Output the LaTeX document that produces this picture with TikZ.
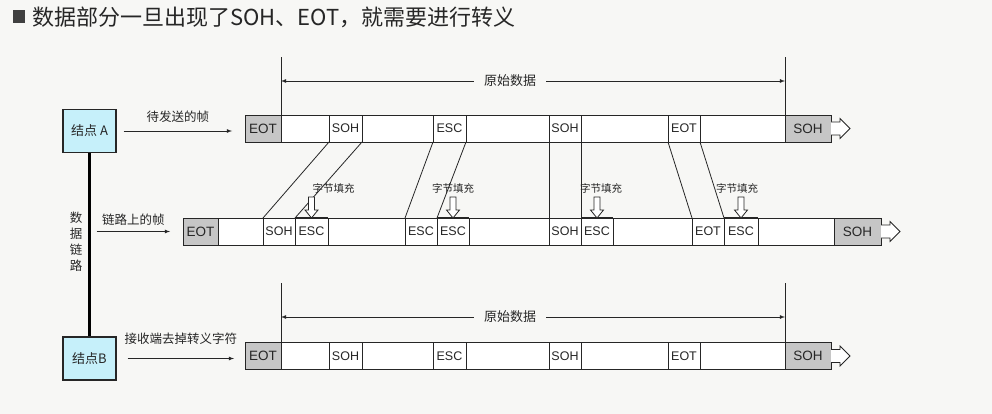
\documentclass[tikz,border=0pt]{standalone}
\usepackage{fontspec}
\setmainfont{Liberation Sans}
\newfontfamily\cjk{Noto Sans CJK SC}
\usepackage{tikz}
\usepackage{xcolor}
\definecolor{pagebg}{HTML}{F7F7F5}
\definecolor{stationfill}{HTML}{C6F0FA}
\definecolor{cellgray}{HTML}{C6C6C6}
\tikzset{
  cell/.style={draw, fill=white, minimum height=27pt, inner sep=0pt, outer sep=0pt,
    font=\fontsize{12.5}{14}\selectfont},
  endcell/.style={cell, fill=cellgray, font=\fontsize{13.5}{15}\selectfont},
  station/.style={draw, line width=1.1pt, fill=stationfill, minimum width=53pt,
    minimum height=43pt, inner sep=0pt, font=\cjk\fontsize{13}{15}\selectfont},
  lbl/.style={inner sep=1pt, font=\cjk\fontsize{12.5}{15}\selectfont},
  datalbl/.style={inner ysep=1pt, inner xsep=10pt, font=\cjk\fontsize{13}{15}\selectfont}
}
\newcommand\outarrow[1]{\draw[fill=white] ([yshift=6.5pt]#1.east) -- ++(9,0) -- ++(0,-3.5)
  -- ++(10,10) -- ++(-10,10) -- ++(0,-3.5) -- ++(-9,0);}
\newcommand\stuffarrow[1]{\draw[fill=white] (#1.north) -- ++(6.5,-8) -- ++(-3.5,0)
  -- ++(0,-13) -- ++(-6,0) -- ++(0,13) -- ++(-3.5,0) -- cycle;}
\begin{document}
\begin{tikzpicture}[x=1pt,y=-1pt,line width=0.8pt,color=black!85]
        \fill[pagebg] (0,0) rectangle (992,414);
        \useasboundingbox (0,0) rectangle (992,414);
        \fill[black!75] (13,10) rectangle (25,23);
        \node[anchor=west, inner sep=0pt, font=\cjk\fontsize{22}{24}\selectfont] (title) at (32,17.5)
        {数据部分一旦出现了SOH、EOT，就需要进行转义};
        \foreach \r/\y in {t/128.5,b/356}
        \foreach \n/\a/\b/\t/\s in {1/245/281/EOT/endcell,2/281/329//cell,3/329/362/SOH/cell,
          4/362/433//cell,5/433/466/ESC/cell,6/466/549//cell,7/549/581/SOH/cell,
          8/581/668//cell,9/668/700/EOT/cell,10/700/785//cell,11/785/831/SOH/endcell}
        {\pgfmathsetmacro\w{\b-\a}
        \node[\s, minimum width=\w pt] (\r\n) at ({(\a+\b)/2},\y) {\t};}
        \foreach \n/\a/\b/\t/\s in {1/183/218/EOT/endcell,2/218/263//cell,3/263/295/SOH/cell,
          4/295/328/ESC/cell,5/328/405//cell,6/405/437/ESC/cell,7/437/469/ESC/cell,
          8/469/549//cell,9/549/581/SOH/cell,10/581/613/ESC/cell,11/613/692//cell,
          12/692/724/EOT/cell,13/724/758/ESC/cell,14/758/834//cell,15/834/881/SOH/endcell}
        {\pgfmathsetmacro\w{\b-\a}
        \node[\s, minimum width=\w pt] (m\n) at ({(\a+\b)/2},231.5) {\t};}
        \outarrow{t11}
        \outarrow{m15}
        \outarrow{b11}
        \foreach \s/\d in {3/3,5/6,7/9,9/12}
        {\draw (t\s.south west) -- (m\d.north west);
        \draw (t\s.south east) -- (m\d.north east);}
        \foreach \c/\dx in {m4/22,m7/0,m10/4,m13/-4}
        {\draw[line width=1.6pt] (\c.north west) -- (\c.north east);
        \stuffarrow{\c}
        \node[lbl, font=\cjk\fontsize{10.5}{12}\selectfont] at ([xshift=\dx pt,yshift=30pt]\c.north) {字节填充};}
        % 原始数据
        \node[datalbl] (topdata) at (510,81) {原始数据};
        \coordinate (tlhi) at ([yshift=58pt]t1.north east);
        \coordinate (trhi) at ([yshift=58pt]t11.north west);
        \draw (t1.north east) -- (tlhi);
        \draw (t11.north west) -- (trhi);
        \draw[-latex] (topdata.west) -- (topdata -| tlhi);
        \draw[-latex] (topdata.east) -- (topdata -| trhi);
        \node[datalbl] (botdata) at (510,317) {原始数据};
        \coordinate (blhi) at ([yshift=60pt]b1.north east);
        \coordinate (brhi) at ([yshift=60pt]b11.north west);
        \draw (b1.north east) -- (blhi);
        \draw (b11.north west) -- (brhi);
        \draw[-latex] (botdata.west) -- (botdata -| blhi);
        \draw[-latex] (botdata.east) -- (botdata -| brhi);
        % stations and link
        \node[station] (A) at (89.5,131) {结点 A};
        \node[station] (B) at (89.5,358.5) {结点B};
        \draw[line width=2.4pt, black] (A.south) -- (B.north);
        \node[lbl, align=center, font=\cjk\fontsize{12.5}{16}\selectfont] (linklbl) at (76,242) {数\\据\\链\\路};
        \draw[-latex] ([xshift=7pt]A.east) -- ([xshift=-13pt]A.east -| t1.west)
        node[lbl, midway, above=7pt] {待发送的帧};
        \draw[-latex] ([xshift=7pt]m1.west -| A.south) -- ([xshift=-13pt]m1.west)
        node[lbl, midway, above=5pt] {链路上的帧};
        \draw[-latex] ([xshift=11pt]B.east) -- ([xshift=-11pt]B.east -| b1.west)
        node[lbl, midway, above=13pt] {接收端去掉转义字符};
        \end{tikzpicture}
\end{document}
